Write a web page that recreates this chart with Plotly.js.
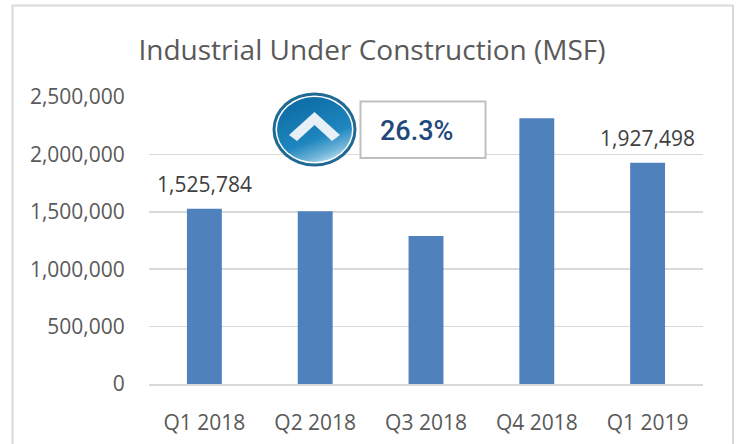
<!DOCTYPE html>
<html><head><meta charset="utf-8">
<script src="https://cdn.plot.ly/plotly-3.0.1.min.js"></script>
<style>html,body{margin:0;padding:0;background:#fff}#c{width:736px;height:444px}</style>
</head><body><div id="c"></div>
<script>
const categories=["Q1 2018","Q2 2018","Q3 2018","Q4 2018","Q1 2019"];
const values=[1525784,1505000,1290000,2315000,1927498];
const dataLabels=["1,525,784","","","","1,927,498"];
const tickVals=[0,500000,1000000,1500000,2000000,2500000];
const chartTitle="Industrial Under Construction (MSF)";
const changeText="26.3%";
const W=736,H=444,L=149,R=703,T=97,B=384;
const px=x=>(x-L)/(R-L), py=y=>(B-y)/(B-T);
const icon=`<svg xmlns="http://www.w3.org/2000/svg" width="85" height="75" viewBox="0 0 85 75"><defs><linearGradient id="g" x1="0.3" y1="0.1" x2="0.7" y2="1"><stop offset="0" stop-color="#0f6fa8"/><stop offset="0.6" stop-color="#1f86bf"/><stop offset="0.85" stop-color="#6fb4d9"/><stop offset="1" stop-color="#b5dcef"/></linearGradient></defs><ellipse cx="42.5" cy="37.5" rx="42" ry="37" fill="#1f6a94"/><ellipse cx="42.5" cy="37.5" rx="39" ry="34" fill="#fff"/><ellipse cx="42.5" cy="37.5" rx="37.5" ry="32.5" fill="url(#g)"/><path d="M17 43 L42.5 20 L68 43 L60 49 L42.5 33 L25 49 Z" fill="#e6f0f6"/></svg>`;
const trace={type:"bar",x:categories,y:values,width:0.315,marker:{color:"#4f81bd",line:{width:0}},hoverinfo:"x+y"};
const labelFont={family:"Open Sans",size:21,color:"#595959"};
const labelAnn=categories.map((c,i)=>({text:dataLabels[i],x:c,y:values[i],xref:"x",yref:"y",showarrow:false,yanchor:"middle",yshift:25,font:{family:"Open Sans",size:21,color:"#404040"}})).filter(a=>a.text);
const layout={width:W,height:H,margin:{l:L,r:W-R,t:T,b:H-B,pad:0},paper_bgcolor:"#fff",plot_bgcolor:"#fff",showlegend:false,
 title:{text:chartTitle,font:{family:"Open Sans",size:28,color:"#595959"},x:372/W,xanchor:"center",y:1-50/H,yanchor:"middle"},
 xaxis:{type:"category",tickfont:labelFont,showgrid:false,showline:true,linecolor:"#d9d9d9",linewidth:2,ticks:"outside",ticklen:19,tickcolor:"rgba(0,0,0,0)",zeroline:false},
 yaxis:{range:[0,2500000],tickvals:tickVals,tickformat:",d",tickfont:labelFont,gridcolor:"#d9d9d9",gridwidth:1.5,zeroline:false,showline:false,ticks:"outside",ticklen:19,tickcolor:"rgba(0,0,0,0)",automargin:false},
 shapes:[
  {type:"rect",xref:"paper",yref:"paper",x0:px(12.5),x1:px(733),y0:py(5.5),y1:py(470),line:{color:"#d9d9d9",width:2},fillcolor:"rgba(0,0,0,0)"},
  {type:"rect",xref:"paper",yref:"paper",x0:px(360.5),x1:px(485.5),y0:py(101.5),y1:py(158),line:{color:"#bfbfbf",width:2},fillcolor:"#fff"}
 ],
 images:[{source:"data:image/svg+xml;utf8,"+encodeURIComponent(icon),xref:"paper",yref:"paper",x:px(272),y:py(92),sizex:85/(R-L),sizey:75/(B-T),xanchor:"left",yanchor:"top",sizing:"stretch",layer:"above"}],
 annotations:labelAnn.concat([{text:changeText,xref:"paper",yref:"paper",x:px(416.5),y:py(131),xanchor:"center",yanchor:"middle",showarrow:false,font:{family:"Roboto",size:27,weight:500,color:"#1f497d"}}])
};
Plotly.newPlot("c",[trace],layout,{displayModeBar:false,staticPlot:true});
</script></body></html>
